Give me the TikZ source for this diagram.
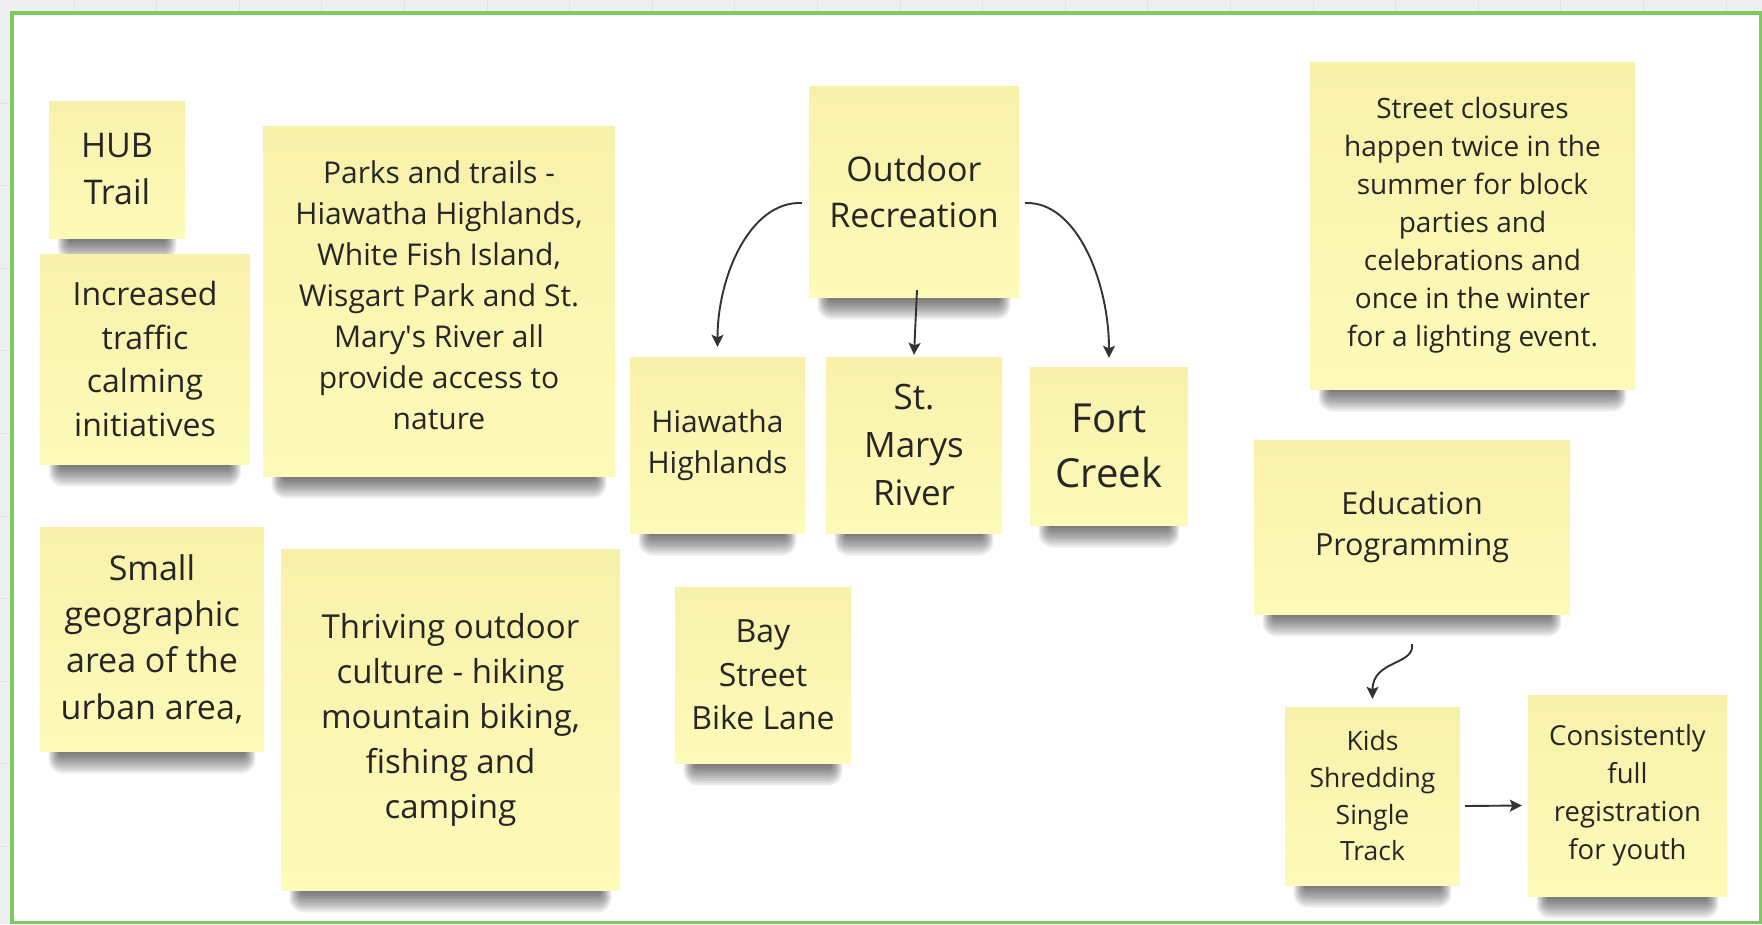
\documentclass[tikz,border=0pt]{standalone}
\usepackage{fontspec}
\setmainfont{Open Sans}
\usetikzlibrary{arrows.meta}

\pgfdeclarelayer{front}
\pgfsetlayers{main,front}

\definecolor{canvasgrey}{HTML}{EFEFF1}
\definecolor{gridline}{HTML}{E2E2E6}
\definecolor{framegreen}{HTML}{7DCB5E}
\definecolor{noteA}{HTML}{F7F1AA}
\definecolor{noteB}{HTML}{FEFAB9}
\definecolor{ink}{HTML}{262626}
\definecolor{wire}{HTML}{333333}

\tikzset{
  note/.style={inner sep=0pt, top color=noteA, bottom color=noteB, text=ink, align=center},
  fs/.style 2 args={font=\fontsize{#1}{#2}\selectfont},
  wire/.style={draw=wire, line width=1.9pt, -{Stealth[length=12pt,width=12pt,inset=2.5pt]}},
  shadowpart/.style={fill=black, fill opacity=0.075},
}

\begin{document}
\begin{tikzpicture}[x=1pt,y=-1pt]
\useasboundingbox (0,0) rectangle (1762,924);

% board frame with the grey canvas around it
\fill[canvasgrey] (0,0) rectangle (1762,924);
\foreach \gx in {74,156.6,...,1762} \draw[gridline, line width=1pt] (\gx,0) -- (\gx,13);
\foreach \gy in {103,185.6,...,924} \draw[gridline, line width=1pt] (0,\gy) -- (12,\gy);
\fill[white] (12,13) rectangle (1762,924);
\draw[framegreen, line width=3.5pt] (12,13) rectangle (1761,922.5);

\begin{pgfonlayer}{front}
% sticky notes
\node[note, fs={34}{47}, minimum width=136, minimum height=137] (hub) at (117,169.5) {HUB\\Trail};
\node[note, fs={32}{43.5}, minimum width=209, minimum height=210] (traffic) at (145,359) {Increased\\traffic\\calming\\initiatives};
\node[note, fs={30}{41}, minimum width=352, minimum height=350] (parks) at (439,301) {Parks and trails -\\Hiawatha Highlands,\\White Fish Island,\\Wisgart Park and St.\\Mary\textquotesingle s River all\\provide access to\\nature\\[-30pt]\mbox{}};
\node[note, fs={34}{46.4}, minimum width=224, minimum height=224] (small) at (152,639) {Small\\geographic\\area of the\\urban area,};
\node[note, fs={33}{45}, minimum width=339, minimum height=341] (thriving) at (450.5,719.5) {Thriving outdoor\\culture - hiking\\mountain biking,\\fishing and\\camping};
\node[note, fs={34}{46}, minimum width=210, minimum height=211] (outdoor) at (914,191.5) {Outdoor\\Recreation};
\node[note, fs={30}{40.5}, minimum width=175, minimum height=176] (hia) at (717.5,445) {Hiawatha\\Highlands};
\node[note, fs={35}{48}, minimum width=176, minimum height=176] (stm) at (914,445) {St.\\Marys\\River};
\node[note, fs={40}{55}, minimum width=158, minimum height=158] (fort) at (1109,446) {Fort\\Creek};
\node[note, fs={32}{43.3}, minimum width=176, minimum height=176] (bay) at (763,675) {Bay\\Street\\Bike Lane};
\node[note, fs={28}{38}, minimum width=325, minimum height=327] (street) at (1472.5,225.5) {Street closures\\happen twice in the\\summer for block\\parties and\\celebrations and\\once in the winter\\for a lighting event.};
\node[note, fs={30.5}{41.5}, minimum width=316, minimum height=174] (edu) at (1412,527) {Education\\Programming};
\node[note, fs={26.5}{36.7}, minimum width=175, minimum height=178] (kids) at (1372.5,796) {Kids\\Shredding\\Single\\Track};
\node[note, fs={27.5}{38}, minimum width=199, minimum height=201] (cons) at (1627.5,795.5) {Consistently\\full\\registration\\for youth};

% connectors
\draw[wire] ([xshift=-7pt,yshift=-11.5pt]outdoor.west) .. controls +(-52,-2) and +(0,-70) .. ([yshift=10pt]hia.north);
\draw[wire] ([xshift=3pt,yshift=7pt]outdoor.south) -- ([yshift=2pt]stm.north);
\draw[wire] ([xshift=6pt,yshift=-11.5pt]outdoor.east) .. controls +(52,-2) and +(0,-75) .. ([yshift=9pt]fort.north);
\draw[wire] ([yshift=-30pt]edu.south) .. controls +(3,21) and +(0,-39) .. ([yshift=8pt]kids.north);
\draw[wire] ([xshift=5pt,yshift=-10pt]kids.east) -- ([xshift=-6pt,yshift=-10pt]cons.west);
\end{pgfonlayer}

% soft shadows under the lower edge of each note, built from stacked translucent strips
\foreach \n in {hub,traffic,parks,small,thriving,outdoor,hia,stm,fort,bay,street,edu,kids,cons}
  \foreach \k in {0,...,8}
    \fill[shadowpart, rounded corners={(2+1.5*\k)*1pt}]
      ([xshift={(20-1.4*\k)*1pt}, yshift=20pt]\n.south west)
      rectangle ([xshift={(-20+1.4*\k)*1pt}, yshift={(-3-2.4*\k)*1pt}]\n.south east);
\end{tikzpicture}
\end{document}
